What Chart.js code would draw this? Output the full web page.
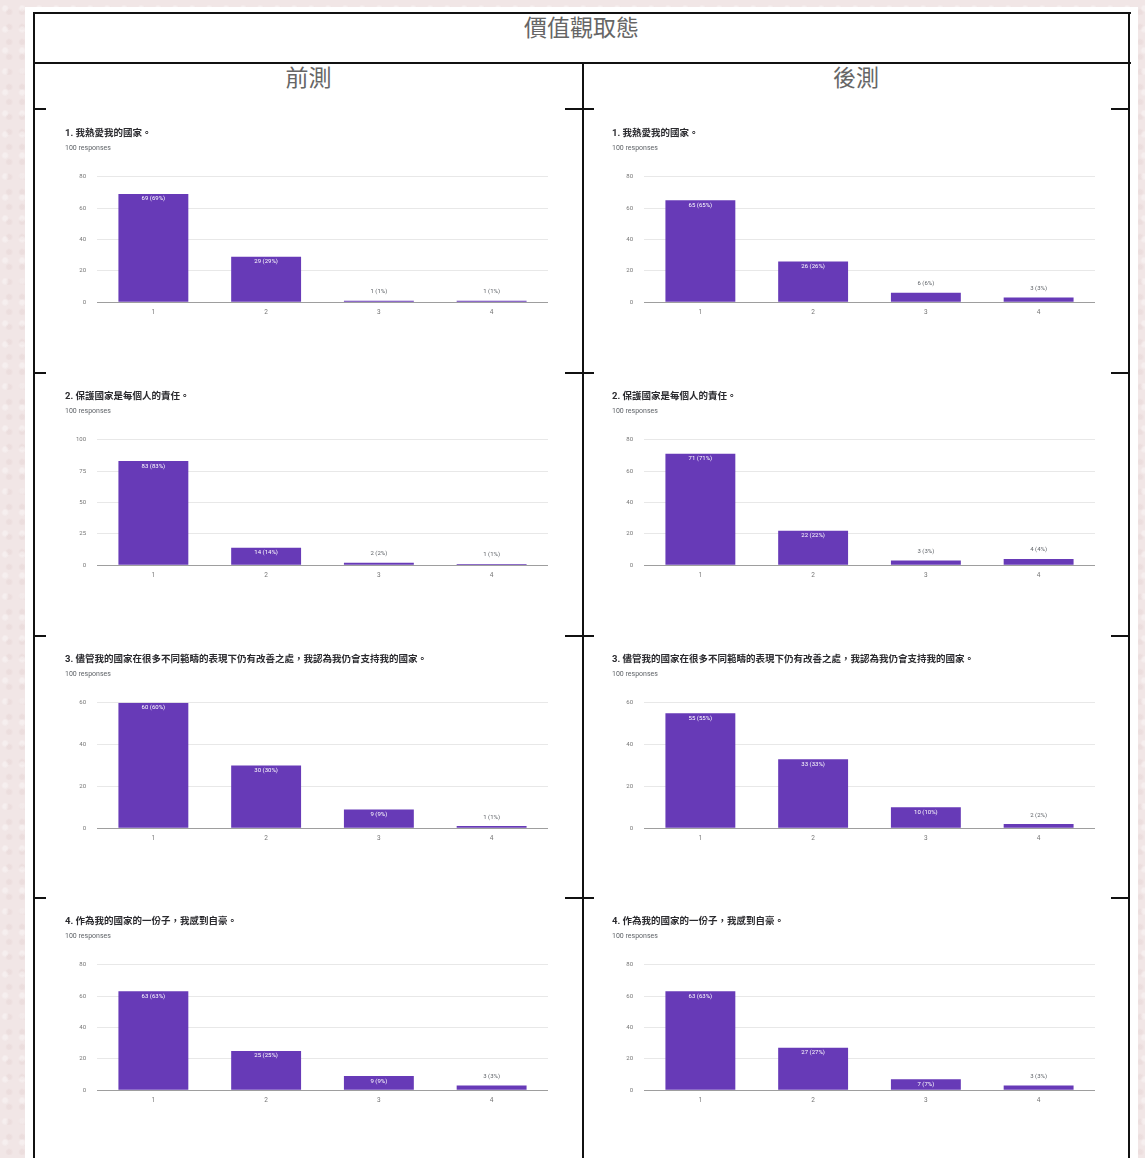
<!DOCTYPE html>
<html>
<head>
<meta charset="utf-8">
<script src="https://cdn.jsdelivr.net/npm/chart.js@4.4.1/dist/chart.umd.min.js"></script>
<style>
  html, body { margin: 0; padding: 0; }
  body {
    width: 1145px; height: 1158px; overflow: hidden; position: relative;
    background-color: #f1e6e6;
    background-image: radial-gradient(circle at 30% 40%, rgba(255,255,255,0.35) 0 2px, transparent 4px),
                      radial-gradient(circle at 70% 80%, rgba(225,205,205,0.35) 0 2px, transparent 4px);
    background-size: 17px 21px, 13px 15px;
    font-family: "Noto Sans CJK TC", sans-serif;
  }
  #sheet { position: absolute; left: 25px; top: 7px; width: 1113px; height: 1160px; background: #fff; }
  .ln { position: absolute; background: #111; }
  .hd { position: absolute; text-align: center; color: #666; font-size: 23px; }
  canvas { position: absolute; }
</style>
</head>
<body>
<div id="sheet"></div>
<div id="page"></div>
<script>
// answer options on the x axis
var categories = ["1", "2", "3", "4"];

// question titles (same for both tests)
var questions = [
  "1. 我熱愛我的國家。",
  "2. 保護國家是每個人的責任。",
  "3. 儘管我的國家在很多不同範疇的表現下仍有改善之處，我認為我仍會支持我的國家。",
  "4. 作為我的國家的一份子，我感到自豪。"
];
var responses = "100 responses";

// 前測 counts
var pre1 = [69, 29, 1, 1];
var pre2 = [83, 14, 2, 1];
var pre3 = [60, 30, 9, 1];
var pre4 = [63, 25, 9, 3];

// 後測 counts
var post1 = [65, 26, 6, 3];
var post2 = [71, 22, 3, 4];
var post3 = [55, 33, 10, 2];
var post4 = [63, 27, 7, 3];

// y axis max and step for each chart
var preMax = [80, 100, 60, 80];
var preStep = [20, 25, 20, 20];
var postMax = [80, 80, 60, 80];
var postStep = [20, 20, 20, 20];

var page = document.getElementById("page");

function addLine(x, y, w, h) {
  var d = document.createElement("div");
  d.className = "ln";
  d.style.left = x + "px"; d.style.top = y + "px";
  d.style.width = w + "px"; d.style.height = h + "px";
  page.appendChild(d);
}
function addText(txt, x, y, w, h) {
  var d = document.createElement("div");
  d.className = "hd";
  d.textContent = txt;
  d.style.left = x + "px"; d.style.top = y + "px";
  d.style.width = w + "px"; d.style.height = h + "px";
  d.style.lineHeight = h + "px";
  page.appendChild(d);
}

// table frame
addLine(33, 12, 1098, 2);
addLine(33, 62, 1098, 2);
addLine(33, 12, 2, 1150);
addLine(1128, 12, 2, 1150);
addLine(582, 62, 2, 1100);
var rowLines = [108, 372, 635, 897];
rowLines.forEach(function (y) {
  addLine(33, y, 13, 2);
  addLine(565, y, 29, 2);
  addLine(1111, y, 18, 2);
});

addText("價值觀取態", 35, 12, 1093, 29);
addText("前測", 35, 63, 547, 26);
addText("後測", 584, 63, 544, 26);

// bar value labels like "69 (69%)"
var valueLabels = {
  id: "valueLabels",
  afterDatasetsDraw: function (chart) {
    var ctx = chart.ctx;
    var data = chart.data.datasets[0].data;
    var total = data.reduce(function (a, b) { return a + b; }, 0);
    var meta = chart.getDatasetMeta(0);
    ctx.save();
    ctx.font = "6px Roboto, sans-serif";
    ctx.textAlign = "center";
    ctx.textBaseline = "middle";
    meta.data.forEach(function (bar, i) {
      var txt = data[i] + " (" + Math.round(data[i] / total * 100) + "%)";
      var h = bar.base - bar.y;
      if (h > 10) {
        ctx.fillStyle = "#ffffff";
        ctx.fillText(txt, bar.x, bar.y + 5);
      } else {
        ctx.fillStyle = "#5f6368";
        ctx.fillText(txt, bar.x, bar.y - 9);
      }
    });
    ctx.restore();
  }
};

function makeChart(left, top, title, values, yMax, yStep) {
  var c = document.createElement("canvas");
  c.width = 520; c.height = 205;
  c.style.left = left + "px"; c.style.top = top + "px";
  c.style.width = "520px"; c.style.height = "205px";
  page.appendChild(c);
  new Chart(c.getContext("2d"), {
    type: "bar",
    data: {
      labels: categories,
      datasets: [{
        data: values,
        backgroundColor: "#673ab7",
        categoryPercentage: 1,
        barPercentage: 0.62
      }]
    },
    options: {
      responsive: false,
      animation: false,
      events: [],
      layout: { padding: { left: 20, right: 17, top: 0, bottom: 3 } },
      plugins: {
        legend: { display: false },
        tooltip: { enabled: false },
        title: {
          display: true, text: title, align: "start", color: "#2a2a2e",
          font: { size: 9.5, weight: "bold", family: "Roboto, 'Noto Sans CJK TC', sans-serif" },
          padding: { top: 7.5, bottom: 1.5 }
        },
        subtitle: {
          display: true, text: responses, align: "start", color: "#5f6368",
          font: { size: 7, family: "Roboto, sans-serif" },
          padding: { top: 4, bottom: 23.9 }
        }
      },
      scales: {
        x: {
          grid: { display: false, drawTicks: false },
          border: { display: false },
          ticks: { color: "#757575", font: { size: 6.5, family: "Roboto, sans-serif" }, padding: 6 }
        },
        y: {
          min: 0, max: yMax,
          afterFit: function (s) { s.width = 32; },
          grid: {
            drawTicks: false,
            color: function (ctx) { return ctx.tick && ctx.tick.value === 0 ? "#9e9e9e" : "#e8e8e8"; }
          },
          border: { display: false },
          ticks: { stepSize: yStep, color: "#757575", font: { size: 6, family: "Roboto, sans-serif" }, padding: 11 }
        }
      }
    },
    plugins: [valueLabels]
  });
}

var rowTops = [120, 383, 646, 908];
var pres = [pre1, pre2, pre3, pre4];
var posts = [post1, post2, post3, post4];
for (var r = 0; r < 4; r++) {
  makeChart(45, rowTops[r], questions[r], pres[r], preMax[r], preStep[r]);
  makeChart(592, rowTops[r], questions[r], posts[r], postMax[r], postStep[r]);
}
</script>
</body>
</html>
